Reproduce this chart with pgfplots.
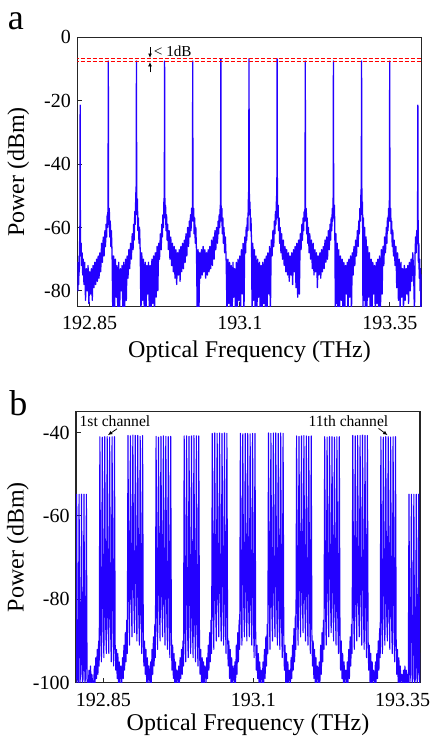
\documentclass[border=0pt]{standalone}
\usepackage{pgfplots}
\pgfplotsset{compat=1.18}
\usepackage{fontspec}
\setmainfont{Liberation Serif}
\usetikzlibrary{arrows.meta}
\definecolor{bl}{RGB}{35,0,255}
\begin{document}
\begin{tikzpicture}
\useasboundingbox (0,0) rectangle (216.5pt,369pt);
\pgfplotsset{
  myax/.style={
    scale only axis, anchor=south west,
    axis line style={line width=0.6pt, black!85},
    tick style={line width=0.5pt, black!85},
    tick align=inside, major tick length=2.5pt, tick pos=left,
    ticklabel style={font=\fontsize{10}{12}\selectfont},
    label style={font=\fontsize{12}{14}\selectfont},
    yticklabel style={anchor=east, inner sep=0pt, xshift=-3pt},
    xticklabel style={anchor=center, inner sep=0pt},
  }
}
% ---------------- panel a ----------------
\begin{axis}[myax, at={(38.65pt,215.65pt)}, width=172.2pt, height=134.7pt,
  xmin=-0.102, xmax=12.137, ymin=-85, ymax=0,
  xtick={0.332,5.671,11.01}, xticklabels={192.85,193.1,193.35},
  ytick={0,-20,-40,-60,-80}, yticklabels={0,-20,-40,-60,-80},
  xticklabel style={yshift=-8.2pt},
  xlabel={Optical Frequency (THz)}, ylabel={Power (dBm)},
  xlabel style={at={(axis description cs:0.5,-0.167)}, anchor=center},
  ylabel style={at={(axis description cs:-0.171,0.5)}, anchor=center},
]
\addplot[bl, line width=0.65pt, line join=round] coordinates {
(-0.11,-76) (-0.095,-71) (-0.08,-80) (-0.065,-72) (-0.05,-78) (-0.04,-69) (-0.03,-74) (-0.02,-65) (-0.01,-61) (0,-21.4)
(0.008,-63) (0.02,-69) (0.035,-65) (0.05,-72) (0.07,-68) (0.09,-75) (0.11,-70) (0.135,-78) (0.16,-71) (0.19,-83) (0.22,-73) (0.25,-80) (0.28,-72) (0.31,-84) (0.34,-74) (0.37,-81) (0.40,-73) (0.43,-83) (0.46,-72) (0.49,-79) (0.52,-71) (0.55,-78) (0.58,-70) (0.61,-77) (0.64,-69) (0.67,-76) (0.70,-68) (0.73,-74) (0.76,-65) (0.79,-71) (0.82,-63) (0.85,-69) (0.88,-61) (0.90,-66) (0.92,-59) (0.94,-63) (0.96,-56) (0.975,-60) (0.99,-53) (1,-7.5)
(1.008,-53) (1.02,-59) (1.035,-54) (1.05,-63) (1.07,-58) (1.09,-66) (1.11,-61) (1.135,-69) (1.16,-88) (1.19,-69) (1.22,-88) (1.25,-70) (1.28,-82) (1.31,-72) (1.34,-88) (1.37,-71) (1.40,-88) (1.43,-73) (1.46,-80) (1.49,-72) (1.52,-88) (1.55,-71) (1.58,-88) (1.61,-70) (1.64,-83) (1.67,-69) (1.70,-76) (1.73,-67) (1.76,-73) (1.79,-65) (1.82,-70) (1.85,-62) (1.88,-67) (1.90,-59) (1.92,-64) (1.94,-55) (1.96,-59) (1.975,-50) (1.99,-47) (2,-7.5)
(2.008,-46) (2.02,-56) (2.035,-51) (2.05,-61) (2.07,-57) (2.09,-65) (2.11,-60) (2.135,-68) (2.16,-88) (2.19,-68) (2.22,-83) (2.25,-70) (2.28,-88) (2.31,-71) (2.34,-88) (2.37,-72) (2.40,-81) (2.43,-71) (2.46,-88) (2.49,-72) (2.52,-88) (2.55,-70) (2.58,-84) (2.61,-69) (2.64,-88) (2.67,-68) (2.70,-82) (2.73,-66) (2.76,-80) (2.79,-65) (2.82,-70) (2.85,-62) (2.88,-67) (2.90,-59) (2.92,-63) (2.94,-56) (2.96,-60) (2.975,-52) (2.99,-50) (3,-7.5)
(3.008,-50) (3.02,-57) (3.035,-53) (3.05,-61) (3.07,-56) (3.09,-64) (3.11,-59) (3.135,-67) (3.16,-61) (3.19,-70) (3.22,-63) (3.25,-72) (3.28,-65) (3.31,-74) (3.34,-66) (3.37,-76) (3.40,-67) (3.43,-78) (3.46,-68) (3.49,-75) (3.52,-67) (3.55,-77) (3.58,-66) (3.61,-74) (3.64,-65) (3.67,-73) (3.70,-64) (3.73,-71) (3.76,-62) (3.79,-69) (3.82,-60) (3.85,-66) (3.88,-58) (3.90,-63) (3.92,-56) (3.94,-61) (3.96,-54) (3.975,-58) (3.99,-53) (4,-7.5)
(4.008,-53) (4.02,-58) (4.035,-54) (4.05,-62) (4.07,-57) (4.09,-65) (4.11,-60) (4.135,-68) (4.16,-88) (4.19,-67) (4.22,-88) (4.25,-68) (4.28,-76) (4.31,-67) (4.34,-75) (4.37,-66) (4.40,-74) (4.43,-67) (4.46,-76) (4.49,-68) (4.52,-75) (4.55,-67) (4.58,-74) (4.61,-66) (4.64,-73) (4.67,-64) (4.70,-72) (4.73,-63) (4.76,-70) (4.79,-61) (4.82,-67) (4.85,-60) (4.88,-65) (4.90,-58) (4.92,-62) (4.94,-56) (4.96,-60) (4.975,-54) (4.99,-52) (5,-6.8)
(5.008,-53) (5.02,-58) (5.035,-54) (5.05,-62) (5.07,-57) (5.09,-65) (5.11,-60) (5.135,-68) (5.16,-63) (5.19,-71) (5.22,-88) (5.25,-70) (5.28,-84) (5.31,-71) (5.34,-88) (5.37,-72) (5.40,-88) (5.43,-71) (5.46,-82) (5.49,-73) (5.52,-88) (5.55,-71) (5.58,-88) (5.61,-70) (5.64,-83) (5.67,-69) (5.70,-88) (5.73,-67) (5.76,-81) (5.79,-65) (5.82,-88) (5.85,-63) (5.88,-68) (5.90,-60) (5.92,-64) (5.94,-57) (5.96,-61) (5.975,-52) (5.99,-48) (6,-6.8)
(6.008,-46) (6.02,-56) (6.035,-52) (6.05,-61) (6.07,-57) (6.09,-65) (6.11,-88) (6.135,-65) (6.16,-83) (6.19,-67) (6.22,-88) (6.25,-69) (6.28,-88) (6.31,-70) (6.34,-82) (6.37,-71) (6.40,-88) (6.43,-72) (6.46,-88) (6.49,-71) (6.52,-84) (6.55,-70) (6.58,-88) (6.61,-69) (6.64,-88) (6.67,-68) (6.70,-81) (6.73,-66) (6.76,-88) (6.79,-64) (6.82,-69) (6.85,-61) (6.88,-66) (6.90,-58) (6.92,-62) (6.94,-55) (6.96,-59) (6.975,-51) (6.99,-49) (7,-6.8)
(7.008,-49) (7.02,-57) (7.035,-53) (7.05,-61) (7.07,-57) (7.09,-65) (7.11,-60) (7.135,-68) (7.16,-62) (7.19,-70) (7.22,-64) (7.25,-72) (7.28,-66) (7.31,-74) (7.34,-67) (7.37,-75) (7.40,-68) (7.43,-77) (7.46,-69) (7.49,-75) (7.52,-68) (7.55,-78) (7.58,-67) (7.61,-74) (7.64,-66) (7.67,-79) (7.70,-65) (7.73,-82) (7.76,-64) (7.79,-81) (7.82,-62) (7.85,-67) (7.88,-59) (7.90,-64) (7.92,-57) (7.94,-61) (7.96,-55) (7.975,-58) (7.99,-53) (8,-7.5)
(8.008,-53) (8.02,-58) (8.035,-54) (8.05,-62) (8.07,-57) (8.09,-65) (8.11,-60) (8.135,-68) (8.16,-62) (8.19,-70) (8.22,-64) (8.25,-73) (8.28,-65) (8.31,-75) (8.34,-67) (8.37,-74) (8.40,-68) (8.43,-79) (8.46,-69) (8.49,-75) (8.52,-68) (8.55,-76) (8.58,-67) (8.61,-74) (8.64,-66) (8.67,-73) (8.70,-64) (8.73,-71) (8.76,-63) (8.79,-70) (8.82,-61) (8.85,-67) (8.88,-59) (8.90,-64) (8.92,-57) (8.94,-61) (8.96,-54) (8.975,-58) (8.99,-51) (9,-7.5)
(9.008,-50) (9.02,-57) (9.035,-53) (9.05,-61) (9.07,-88) (9.09,-62) (9.11,-84) (9.135,-65) (9.16,-88) (9.19,-67) (9.22,-88) (9.25,-69) (9.28,-83) (9.31,-70) (9.34,-88) (9.37,-71) (9.40,-88) (9.43,-72) (9.46,-81) (9.49,-71) (9.52,-88) (9.55,-70) (9.58,-82) (9.61,-69) (9.64,-88) (9.67,-68) (9.70,-75) (9.73,-66) (9.76,-72) (9.79,-64) (9.82,-69) (9.85,-61) (9.88,-66) (9.90,-58) (9.92,-62) (9.94,-54) (9.96,-58) (9.975,-50) (9.99,-47) (10,-7.5)
(10.008,-46) (10.02,-56) (10.035,-52) (10.05,-88) (10.07,-57) (10.09,-83) (10.11,-60) (10.135,-88) (10.16,-63) (10.19,-88) (10.22,-66) (10.25,-82) (10.28,-68) (10.31,-88) (10.34,-70) (10.37,-88) (10.40,-71) (10.43,-81) (10.46,-72) (10.49,-88) (10.52,-71) (10.55,-84) (10.58,-70) (10.61,-88) (10.64,-69) (10.67,-88) (10.70,-67) (10.73,-81) (10.76,-66) (10.79,-72) (10.82,-63) (10.85,-68) (10.88,-60) (10.90,-65) (10.92,-57) (10.94,-61) (10.96,-54) (10.975,-58) (10.99,-51) (11,-7.5)
(11.008,-51) (11.02,-58) (11.035,-54) (11.05,-62) (11.07,-58) (11.09,-66) (11.11,-61) (11.135,-69) (11.16,-64) (11.19,-72) (11.22,-66) (11.25,-79) (11.28,-68) (11.31,-83) (11.34,-70) (11.37,-85) (11.40,-71) (11.43,-82) (11.46,-73) (11.49,-86) (11.52,-72) (11.55,-83) (11.58,-73) (11.61,-81) (11.64,-72) (11.67,-84) (11.70,-71) (11.73,-80) (11.76,-70) (11.79,-77) (11.82,-68) (11.85,-74) (11.88,-88) (11.90,-69) (11.92,-63) (11.94,-68) (11.96,-61) (11.975,-65) (11.99,-60) (12,-21.4)
(12.01,-62) (12.02,-71) (12.035,-65) (12.05,-76) (12.065,-70) (12.08,-80) (12.095,-73) (12.11,-88) (12.125,-75) (12.14,-80)
};
\addplot[red, line width=0.45pt, dash pattern=on 2pt off 1pt] coordinates {(-0.2,-6.6) (12.3,-6.6)};
\addplot[red, line width=0.45pt, dash pattern=on 2pt off 1pt] coordinates {(-0.2,-7.7) (12.3,-7.7)};
\draw[-{Latex[length=2.2pt,width=2pt]}, line width=0.4pt] (axis cs:2.482,-3.2) -- (axis cs:2.482,-6.5);
\draw[-{Latex[length=2.2pt,width=2pt]}, line width=0.4pt] (axis cs:2.482,-11.1) -- (axis cs:2.482,-7.8);
\node[font=\fontsize{7.6}{9}\selectfont, anchor=west, inner sep=0pt] at (axis cs:2.606,-4.3) {< 1dB};
\end{axis}
% ---------------- panel b ----------------
\begin{axis}[myax, at={(38pt,27.65pt)}, width=172pt, height=135.5pt,
  xmin=-0.110, xmax=12.132, ymin=-100, ymax=-35,
  xtick={0.861,6.199,11.516}, xticklabels={192.85,193.1,193.35},
  ytick={-40,-60,-80,-100}, yticklabels={-40,-60,-80,-100},
  xticklabel style={yshift=-8.6pt},
  xlabel={Optical Frequency (THz)}, ylabel={Power (dBm)},
  xlabel style={at={(axis description cs:0.5,-0.156)}, anchor=center},
  ylabel style={at={(axis description cs:-0.169,0.5)}, anchor=center},
]
\addplot[bl, line width=0.55pt, line join=round] coordinates {
(-0.12,-99) (-0.105,-100) (-0.087,-54.8) (-0.058,-99) (-0.029,-100) (0,-54.8) (0.029,-100) (0.058,-98) (0.087,-54.8) (0.117,-100) (0.145,-99) (0.174,-54.8) (0.205,-100) (0.23,-99) (0.26,-54.8) (0.285,-100) (0.305,-100) (0.33,-100) (0.355,-97) (0.38,-100) (0.405,-96) (0.43,-100) (0.455,-98) (0.48,-100)
(0.52,-100) (0.545,-96) (0.57,-100) (0.595,-94) (0.62,-99) (0.645,-92) (0.67,-98) (0.695,-90) (0.715,-96) (0.74,-41.0) (0.77,-88) (0.795,-95) (0.826,-41.1) (0.855,-86) (0.883,-94) (0.913,-41.0) (0.942,-85) (0.971,-93) (1.0,-41.0) (1.029,-84) (1.058,-93) (1.087,-41.1) (1.117,-86) (1.145,-95) (1.174,-41.0) (1.205,-87) (1.23,-96) (1.26,-41.0) (1.285,-91) (1.305,-97) (1.33,-92) (1.355,-99) (1.38,-93) (1.405,-100) (1.43,-95) (1.455,-100) (1.48,-96)
(1.52,-100) (1.545,-94) (1.57,-99) (1.595,-91) (1.62,-97) (1.645,-88) (1.67,-95) (1.695,-85) (1.715,-93) (1.74,-40.7) (1.77,-82) (1.795,-91) (1.826,-40.8) (1.855,-79) (1.883,-89) (1.913,-40.6) (1.942,-78) (1.971,-88) (2.0,-40.7) (2.029,-79) (2.058,-90) (2.087,-40.7) (2.117,-81) (2.145,-91) (2.174,-40.9) (2.205,-84) (2.23,-93) (2.26,-40.7) (2.285,-88) (2.305,-96) (2.33,-90) (2.355,-98) (2.38,-92) (2.405,-100) (2.43,-94) (2.455,-100) (2.48,-96)
(2.52,-100) (2.545,-95) (2.57,-100) (2.595,-92) (2.62,-98) (2.645,-89) (2.67,-96) (2.695,-86) (2.715,-94) (2.74,-40.9) (2.77,-83) (2.795,-92) (2.826,-41.1) (2.855,-80) (2.883,-90) (2.913,-40.9) (2.942,-79) (2.971,-89) (3.0,-40.8) (3.029,-80) (3.058,-91) (3.087,-40.9) (3.117,-82) (3.145,-92) (3.174,-41.0) (3.205,-85) (3.23,-94) (3.26,-40.9) (3.285,-89) (3.305,-97) (3.33,-91) (3.355,-99) (3.38,-93) (3.405,-100) (3.43,-95) (3.455,-100) (3.48,-97)
(3.52,-100) (3.545,-96) (3.57,-100) (3.595,-94) (3.62,-99) (3.645,-92) (3.67,-98) (3.695,-90) (3.715,-96) (3.74,-40.8) (3.77,-88) (3.795,-95) (3.826,-40.8) (3.855,-86) (3.883,-94) (3.913,-40.9) (3.942,-85) (3.971,-93) (4.0,-40.8) (4.029,-85) (4.058,-94) (4.087,-40.7) (4.117,-86) (4.145,-95) (4.174,-40.8) (4.205,-88) (4.23,-96) (4.26,-40.8) (4.285,-91) (4.305,-98) (4.33,-92) (4.355,-100) (4.38,-94) (4.405,-100) (4.43,-95) (4.455,-100) (4.48,-96)
(4.52,-100) (4.545,-94) (4.57,-99) (4.595,-91) (4.62,-97) (4.645,-88) (4.67,-95) (4.695,-85) (4.715,-93) (4.74,-40.2) (4.77,-83) (4.795,-92) (4.826,-40.1) (4.855,-80) (4.883,-90) (4.913,-40.2) (4.942,-79) (4.971,-89) (5.0,-40.1) (5.029,-79) (5.058,-90) (5.087,-40.2) (5.117,-81) (5.145,-91) (5.174,-40.1) (5.205,-84) (5.23,-93) (5.26,-40.2) (5.285,-88) (5.305,-96) (5.33,-90) (5.355,-99) (5.38,-92) (5.405,-100) (5.43,-94) (5.455,-100) (5.48,-96)
(5.52,-100) (5.545,-95) (5.57,-100) (5.595,-91) (5.62,-98) (5.645,-88) (5.67,-95) (5.695,-85) (5.715,-92) (5.74,-40.2) (5.77,-82) (5.795,-91) (5.826,-40.3) (5.855,-80) (5.883,-89) (5.913,-40.2) (5.942,-79) (5.971,-90) (6.0,-40.2) (6.029,-80) (6.058,-89) (6.087,-40.3) (6.117,-82) (6.145,-91) (6.174,-40.2) (6.205,-85) (6.23,-94) (6.26,-40.2) (6.285,-88) (6.305,-97) (6.33,-91) (6.355,-99) (6.38,-93) (6.405,-100) (6.43,-95) (6.455,-100) (6.48,-97)
(6.52,-100) (6.545,-95) (6.57,-100) (6.595,-92) (6.62,-99) (6.645,-89) (6.67,-96) (6.695,-86) (6.715,-93) (6.74,-40.1) (6.77,-83) (6.795,-92) (6.826,-40.2) (6.855,-81) (6.883,-90) (6.913,-40.1) (6.942,-80) (6.971,-89) (7.0,-40.1) (7.029,-80) (7.058,-91) (7.087,-40.2) (7.117,-82) (7.145,-92) (7.174,-40.1) (7.205,-85) (7.23,-94) (7.26,-40.2) (7.285,-89) (7.305,-97) (7.33,-91) (7.355,-100) (7.38,-93) (7.405,-100) (7.43,-95) (7.455,-100) (7.48,-97)
(7.52,-100) (7.545,-94) (7.57,-99) (7.595,-91) (7.62,-97) (7.645,-87) (7.67,-95) (7.695,-84) (7.715,-92) (7.74,-40.8) (7.77,-82) (7.795,-91) (7.826,-40.9) (7.855,-79) (7.883,-89) (7.913,-40.8) (7.942,-78) (7.971,-88) (8.0,-40.7) (8.029,-79) (8.058,-90) (8.087,-40.8) (8.117,-81) (8.145,-91) (8.174,-40.9) (8.205,-84) (8.23,-93) (8.26,-40.8) (8.285,-88) (8.305,-96) (8.33,-90) (8.355,-99) (8.38,-92) (8.405,-100) (8.43,-94) (8.455,-100) (8.48,-96)
(8.52,-100) (8.545,-95) (8.57,-100) (8.595,-91) (8.62,-98) (8.645,-88) (8.67,-95) (8.695,-85) (8.715,-92) (8.74,-41.0) (8.77,-82) (8.795,-91) (8.826,-41.1) (8.855,-79) (8.883,-89) (8.913,-41.0) (8.942,-78) (8.971,-88) (9.0,-41.0) (9.029,-79) (9.058,-90) (9.087,-41.1) (9.117,-81) (9.145,-91) (9.174,-41.0) (9.205,-84) (9.23,-93) (9.26,-41.0) (9.285,-88) (9.305,-97) (9.33,-90) (9.355,-99) (9.38,-93) (9.405,-100) (9.43,-95) (9.455,-100) (9.48,-97)
(9.52,-100) (9.545,-95) (9.57,-100) (9.595,-92) (9.62,-99) (9.645,-89) (9.67,-96) (9.695,-86) (9.715,-93) (9.74,-40.7) (9.77,-83) (9.795,-92) (9.826,-40.8) (9.855,-81) (9.883,-90) (9.913,-40.7) (9.942,-80) (9.971,-89) (10.0,-40.7) (10.029,-80) (10.058,-91) (10.087,-40.6) (10.117,-82) (10.145,-92) (10.174,-40.7) (10.205,-85) (10.23,-94) (10.26,-40.7) (10.285,-89) (10.305,-97) (10.33,-91) (10.355,-100) (10.38,-93) (10.405,-100) (10.43,-95) (10.455,-100) (10.48,-97)
(10.52,-100) (10.545,-95) (10.57,-100) (10.595,-93) (10.62,-99) (10.645,-90) (10.67,-97) (10.695,-87) (10.715,-94) (10.74,-41.0) (10.77,-85) (10.795,-93) (10.826,-41.1) (10.855,-83) (10.883,-91) (10.913,-41.0) (10.942,-82) (10.971,-90) (11.0,-41.0) (11.029,-82) (11.058,-92) (11.087,-41.1) (11.117,-84) (11.145,-93) (11.174,-41.0) (11.205,-87) (11.23,-95) (11.26,-41.0) (11.285,-90) (11.305,-98) (11.33,-92) (11.355,-100) (11.38,-94) (11.405,-100) (11.43,-96) (11.455,-100) (11.48,-98)
(11.52,-100) (11.545,-97) (11.57,-100) (11.595,-96) (11.62,-100) (11.645,-97) (11.67,-100) (11.695,-98) (11.715,-100) (11.74,-54.8) (11.77,-100) (11.795,-98) (11.826,-54.8) (11.855,-100) (11.883,-99) (11.913,-54.8) (11.942,-100) (11.971,-99) (12.0,-54.8) (12.029,-100) (12.058,-99) (12.087,-54.8) (12.117,-100) (12.14,-99)
};
\draw[-{Latex[length=2.2pt,width=2pt]}, line width=0.4pt] (axis cs:1.349,-39.1) -- (axis cs:1.028,-40.6);
\draw[-{Latex[length=2.2pt,width=2pt]}, line width=0.4pt] (axis cs:10.655,-39.0) -- (axis cs:10.975,-40.6);
\node[font=\fontsize{7.8}{9}\selectfont, anchor=base west, inner sep=0pt] at (axis cs:0.007,-38.56) {1st channel};
\node[font=\fontsize{7.8}{9}\selectfont, anchor=base west, inner sep=0pt] at (axis cs:8.157,-38.56) {11th channel};
\end{axis}
\begin{scope}[x=0.5pt,y=-0.5pt,shift={(0pt,369pt)}]
\node[font=\fontsize{18}{20}\selectfont, inner sep=0pt] at (15.8,21) {a};
\node[font=\fontsize{18}{20}\selectfont, inner sep=0pt] at (18.5,403) {b};
\end{scope}
\end{tikzpicture}
\end{document}
